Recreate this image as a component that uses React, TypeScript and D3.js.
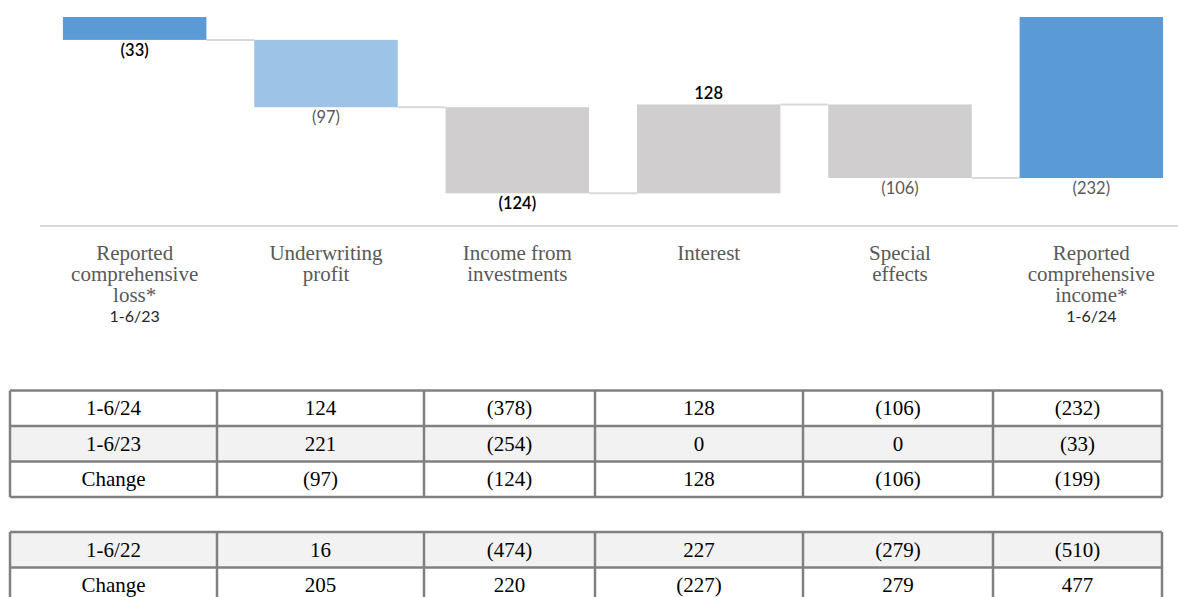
import React, { useEffect } from 'react';
import * as d3 from 'd3';

// chart data
const categories = [
  ['Reported', 'comprehensive', 'loss*'],
  ['Underwriting', 'profit'],
  ['Income from', 'investments'],
  ['Interest'],
  ['Special', 'effects'],
  ['Reported', 'comprehensive', 'income*'],
];
const periodLabels = ['1-6/23', '', '', '', '', '1-6/24'];
const stepValues = [-33, -97, -124, 128, -106, -232];
const isTotal = [true, false, false, false, false, true];

// table data
const tableRowLabels = ['1-6/24', '1-6/23', 'Change'];
const row2024 = [124, -378, 128, -106, -232];
const row2023 = [221, -254, 0, 0, -33];
const rowChange = [-97, -124, 128, -106, -199];
const table2RowLabels = ['1-6/22', 'Change'];
const row2022 = [16, -474, 227, -279, -510];
const rowChange22 = [205, 220, -227, 279, 477];

interface Step {
  name: string;
  value: number;
  start: number;
  end: number;
  total: boolean;
}

const barColors = ['#5b9bd5', '#9dc3e6', '#d0cece', '#d0cece', '#d0cece', '#5b9bd5'];
const labelColors = ['#000', '#595959', '#000', '#000', '#595959', '#595959'];

const fmt = (v: number) => (v < 0 ? `(${Math.abs(v)})` : `${v}`);

export default function App() {
  useEffect(() => {
    const width = 1178;
    const height = 597;

    const root = d3.select('#waterfall');
    root.selectAll('*').remove();
    const svg = root
      .append('svg')
      .attr('width', width)
      .attr('height', height)
      .style('position', 'absolute')
      .style('left', 0)
      .style('top', 0)
      .style('background', '#fff');

    let running = 0;
    const steps: Step[] = stepValues.map((v, i) => {
      let s: Step;
      if (isTotal[i]) {
        s = { name: categories[i].join(' '), value: v, start: 0, end: v, total: true };
        running = v;
      } else {
        s = { name: categories[i].join(' '), value: v, start: running, end: running + v, total: false };
        running += v;
      }
      return s;
    });

    const xScale = d3
      .scaleBand()
      .domain(steps.map((d) => d.name))
      .range([39, 1187])
      .paddingInner(0.25)
      .paddingOuter(0.125);

    const yScale = d3.scaleLinear().domain([0, -232]).range([17, 178]);

    // baseline
    svg
      .append('line')
      .attr('x1', 40)
      .attr('x2', 1178)
      .attr('y1', 226)
      .attr('y2', 226)
      .attr('stroke', '#d9d9d9')
      .attr('stroke-width', 2);

    // connectors
    svg
      .selectAll('line.conn')
      .data(steps.slice(0, -1))
      .enter()
      .append('line')
      .attr('class', 'conn')
      .attr('x1', (d) => (xScale(d.name) as number) + xScale.bandwidth())
      .attr('x2', (d, i) => xScale(steps[i + 1].name) as number)
      .attr('y1', (d) => yScale(d.end))
      .attr('y2', (d) => yScale(d.end))
      .attr('stroke', '#d9d9d9')
      .attr('stroke-width', 2);

    svg
      .selectAll('rect.bar')
      .data(steps)
      .enter()
      .append('rect')
      .attr('class', 'bar')
      .attr('x', (d) => xScale(d.name) as number)
      .attr('y', (d) => Math.min(yScale(d.start), yScale(d.end)))
      .attr('width', xScale.bandwidth())
      .attr('height', (d) => Math.abs(yScale(d.start) - yScale(d.end)))
      .attr('fill', (d, i) => barColors[i]);

    svg
      .selectAll('text.val')
      .data(steps)
      .enter()
      .append('text')
      .attr('class', 'val')
      .attr('x', (d) => (xScale(d.name) as number) + xScale.bandwidth() / 2)
      .attr('y', (d) =>
        d.value >= 0 ? Math.min(yScale(d.start), yScale(d.end)) - 5 : Math.max(yScale(d.start), yScale(d.end)) + 16
      )
      .attr('text-anchor', 'middle')
      .attr('font-family', 'Lato, "Open Sans", sans-serif')
      .attr('font-size', 16.5)
      .attr('font-weight', (d, i) => (labelColors[i] === '#000' ? 600 : 400))
      .attr('fill', (d, i) => labelColors[i])
      .text((d) => fmt(d.value));

    // category labels
    const catGroups = svg
      .selectAll('g.cat')
      .data(steps)
      .enter()
      .append('g')
      .attr('class', 'cat')
      .attr('transform', (d) => `translate(${(xScale(d.name) as number) + xScale.bandwidth() / 2}, 260)`);

    catGroups.each(function (d, i) {
      const g = d3.select(this);
      categories[i].forEach((line, j) => {
        g.append('text')
          .attr('y', j * 21)
          .attr('text-anchor', 'middle')
          .attr('font-family', '"Liberation Serif", "Times New Roman", serif')
          .attr('font-size', 21)
          .attr('fill', '#595959')
          .text(line);
      });
      if (periodLabels[i]) {
        g.append('text')
          .attr('y', categories[i].length * 21 - 1)
          .attr('text-anchor', 'middle')
          .attr('font-family', 'Lato, "Open Sans", sans-serif')
          .attr('font-size', 16)
          .attr('fill', '#262626')
          .text(periodLabels[i]);
      }
    });

    // tables
    const colEdges = [10, 217, 424, 595, 803, 993, 1162];
    const rowH = 35.5;

    const drawTable = (top: number, labels: string[], rows: number[][], shaded: boolean[]) => {
      const t = svg.append('g');
      labels.forEach((lab, r) => {
        const y = top + r * rowH;
        t.append('rect')
          .attr('x', colEdges[0])
          .attr('y', y)
          .attr('width', colEdges[6] - colEdges[0])
          .attr('height', rowH)
          .attr('fill', shaded[r] ? '#f2f2f2' : '#fff');
        const cells = [lab, ...rows[r].map(fmt)];
        cells.forEach((c, k) => {
          t.append('text')
            .attr('x', (colEdges[k] + colEdges[k + 1]) / 2)
            .attr('y', y + rowH / 2 + 7)
            .attr('text-anchor', 'middle')
            .attr('font-family', '"Liberation Serif", "Times New Roman", serif')
            .attr('font-size', 21)
            .attr('fill', '#000')
            .text(c);
        });
      });
      const bottom = top + labels.length * rowH;
      for (let r = 0; r <= labels.length; r++) {
        t.append('line')
          .attr('x1', colEdges[0])
          .attr('x2', colEdges[6])
          .attr('y1', top + r * rowH)
          .attr('y2', top + r * rowH)
          .attr('stroke', '#808080')
          .attr('stroke-width', 2.5);
      }
      colEdges.forEach((x) => {
        t.append('line')
          .attr('x1', x)
          .attr('x2', x)
          .attr('y1', top)
          .attr('y2', bottom)
          .attr('stroke', '#808080')
          .attr('stroke-width', 2.5);
      });
    };

    drawTable(390.5, tableRowLabels, [row2024, row2023, rowChange], [false, true, false]);
    drawTable(532, table2RowLabels, [row2022, rowChange22], [true, false]);
  }, []);

  return <div id="waterfall"></div>;
}
